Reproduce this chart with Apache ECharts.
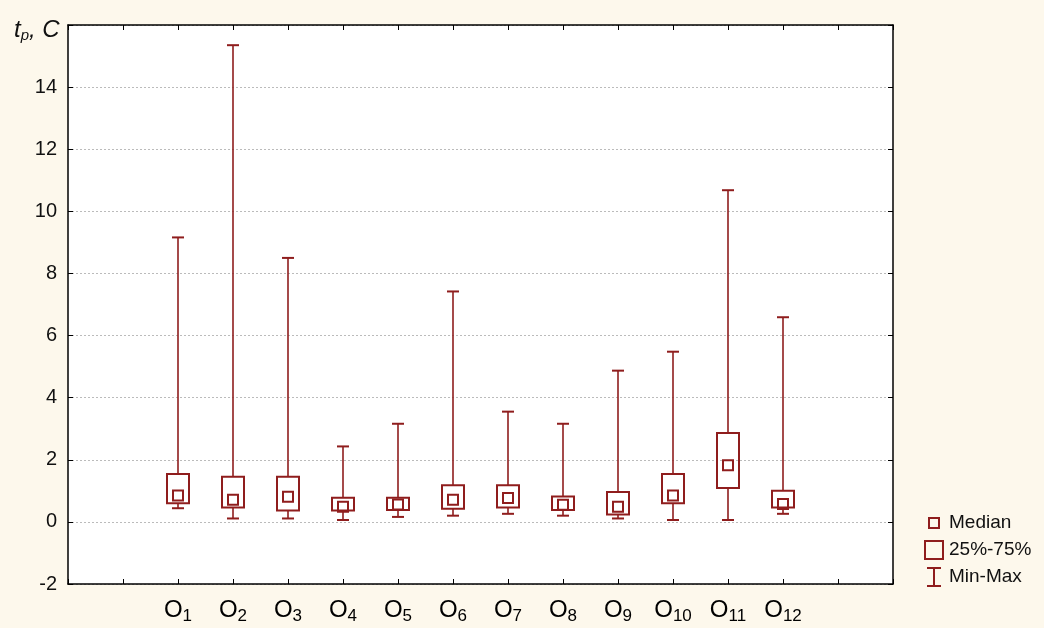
<!DOCTYPE html>
<html>
<head>
<meta charset="utf-8">
<script src="https://cdn.jsdelivr.net/npm/echarts@6/dist/echarts.min.js"></script>
<style>
  html, body { margin: 0; padding: 0; background: #fdf8ec; }
  #chart { width: 1044px; height: 628px; }
</style>
</head>
<body>
<div id="chart"></div>
<script>
// categories O1..O12
const categories = ['1', '2', '3', '4', '5', '6', '7', '8', '9', '10', '11', '12'];
const minVals    = [0.44, 0.11, 0.11, 0.06, 0.16, 0.20, 0.26, 0.20, 0.11, 0.06, 0.06, 0.26];
const q1Vals     = [0.60, 0.46, 0.37, 0.37, 0.38, 0.42, 0.46, 0.38, 0.24, 0.60, 1.09, 0.46];
const medianVals = [0.85, 0.71, 0.81, 0.49, 0.56, 0.71, 0.77, 0.55, 0.49, 0.85, 1.82, 0.58];
const q3Vals     = [1.54, 1.45, 1.45, 0.78, 0.78, 1.18, 1.18, 0.82, 0.96, 1.54, 2.86, 1.00];
const maxVals    = [9.16, 15.35, 8.50, 2.43, 3.16, 7.42, 3.55, 3.16, 4.87, 5.48, 10.68, 6.59];
const yTicks = { min: -2, max: 16, step: 2 };

const RED = '#8f1d1d';

// x positions: two empty slots before O1 on the axis, as in the original
const rows = categories.map((c, i) => [i + 2, minVals[i], q1Vals[i], medianVals[i], q3Vals[i], maxVals[i]]);

function part(kind) {
  return function (params, api) {
    const x = api.value(0);
    const pMin = api.coord([x, api.value(1)]);
    const pQ1 = api.coord([x, api.value(2)]);
    const pMed = api.coord([x, api.value(3)]);
    const pQ3 = api.coord([x, api.value(4)]);
    const pMax = api.coord([x, api.value(5)]);
    const cx = pMed[0];
    const st = { stroke: RED, fill: null, lineWidth: 2 };
    if (kind === 'whisker') {
      const cap = 6;
      return {
        type: 'group',
        children: [
          { type: 'line', shape: { x1: cx, y1: pMax[1], x2: cx, y2: pQ3[1] }, style: { stroke: RED, lineWidth: 1.6 } },
          { type: 'line', shape: { x1: cx, y1: pQ1[1], x2: cx, y2: pMin[1] }, style: { stroke: RED, lineWidth: 1.6 } },
          { type: 'line', shape: { x1: cx - cap, y1: pMax[1], x2: cx + cap, y2: pMax[1] }, style: { stroke: RED, lineWidth: 2 } },
          { type: 'line', shape: { x1: cx - cap, y1: pMin[1], x2: cx + cap, y2: pMin[1] }, style: { stroke: RED, lineWidth: 2 } }
        ]
      };
    }
    if (kind === 'box') {
      return { type: 'rect', shape: { x: cx - 11, y: pQ3[1], width: 22, height: pQ1[1] - pQ3[1] }, style: Object.assign({ fill: '#fff' }, st) };
    }
    return { type: 'rect', shape: { x: cx - 5, y: pMed[1] - 5, width: 10, height: 10 }, style: st };
  };
}

const chart = echarts.init(document.getElementById('chart'));

const axisLine = { show: true, onZero: false, lineStyle: { color: '#000', width: 1.5 } };
const ticks = { show: true, inside: true, length: 5, lineStyle: { color: '#000', width: 1 } };

chart.setOption({
  backgroundColor: '#fdf8ec',
  animation: false,
  color: [RED],
  title: {
    left: 9, top: 13,
    text: '{t|t}{s|p}{t|, C}',
    textStyle: {
      fontWeight: 'normal',
      rich: {
        t: { fontFamily: 'Liberation Sans', fontStyle: 'italic', fontWeight: 'normal', fontSize: 24, color: '#111' },
        s: { fontFamily: 'Liberation Sans', fontStyle: 'italic', fontWeight: 'normal', fontSize: 15, color: '#111', verticalAlign: 'bottom', padding: [10, 0, 0, 0] }
      }
    }
  },
  grid: { left: 68, right: 151, top: 25, bottom: 44, show: true, backgroundColor: '#fff', borderWidth: 0 },
  legend: {
    orient: 'vertical',
    left: 918, top: 507,
    itemWidth: 20, itemHeight: 20, itemGap: 5,
    textStyle: { fontFamily: 'Liberation Sans', fontSize: 19, color: '#111' },
    data: [
      { name: 'Median', icon: 'path://M0,0M20,20M5,5L15,5L15,15L5,15Z', itemStyle: { color: 'rgba(0,0,0,0)', borderColor: RED, borderWidth: 2 } },
      { name: '25%-75%', icon: 'path://M0,0M20,20M1,1L19,1L19,19L1,19Z', itemStyle: { color: 'rgba(0,0,0,0)', borderColor: RED, borderWidth: 2 } },
      { name: 'Min-Max', icon: 'path://M0,0M20,20M3,1L17,1M10,1L10,19M3,19L17,19', itemStyle: { color: 'rgba(0,0,0,0)', borderColor: RED, borderWidth: 2 } }
    ]
  },
  xAxis: [
    {
      type: 'value', min: 0, max: 15, interval: 1,
      axisLine: axisLine, axisTick: ticks, splitLine: { show: false },
      axisLabel: {
        margin: 12,
        formatter: function (v) {
          const i = v - 2;
          return (i >= 0 && i < categories.length) ? '{o|O}{s|' + categories[i] + '}' : '';
        },
        rich: {
          o: { fontFamily: 'Liberation Sans', fontSize: 24, color: '#000' },
          s: { fontFamily: 'Liberation Sans', fontSize: 17, color: '#000', verticalAlign: 'bottom', padding: [12, 0, 0, 0] }
        }
      }
    },
    {
      type: 'value', min: 0, max: 15, interval: 1, position: 'top',
      axisLine: axisLine, axisTick: ticks, axisLabel: { show: false }, splitLine: { show: false }
    }
  ],
  yAxis: [
    {
      type: 'value', min: yTicks.min, max: yTicks.max, interval: yTicks.step,
      axisLine: axisLine, axisTick: ticks,
      axisLabel: {
        margin: 11, fontFamily: 'Liberation Sans', fontSize: 20, color: '#111',
        formatter: v => (v === yTicks.max ? '' : String(v))
      },
      splitLine: { show: true, lineStyle: { color: '#bbb', type: [2, 2], width: 1 } }
    },
    {
      type: 'value', min: yTicks.min, max: yTicks.max, interval: yTicks.step, position: 'right',
      axisLine: axisLine, axisTick: ticks, axisLabel: { show: false }, splitLine: { show: false }
    }
  ],
  series: [
    { name: 'Min-Max', type: 'custom', renderItem: part('whisker'), data: rows, encode: { x: 0, y: [1, 2, 3, 4, 5] }, z: 2 },
    { name: '25%-75%', type: 'custom', renderItem: part('box'), data: rows, encode: { x: 0, y: [1, 2, 3, 4, 5] }, z: 3 },
    { name: 'Median', type: 'custom', renderItem: part('median'), data: rows, encode: { x: 0, y: [1, 2, 3, 4, 5] }, z: 4 }
  ]
});
</script>
</body>
</html>
